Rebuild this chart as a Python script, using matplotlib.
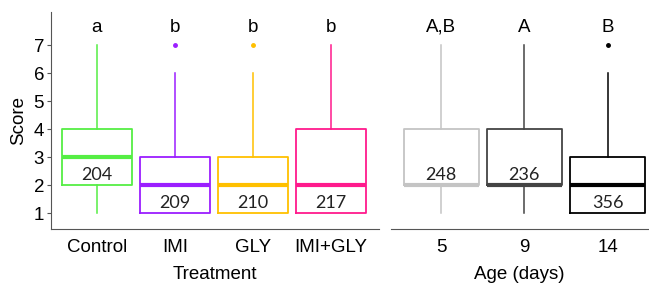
import matplotlib
matplotlib.use("Agg")
import matplotlib.pyplot as plt

plt.rcParams["font.family"] = ["Liberation Sans", "DejaVu Sans"]

# Treatment panel
treatments = ["Control", "IMI", "GLY", "IMI+GLY"]
trt_colors = ["#55EE44", "#9B1EFF", "#FFC000", "#FF1A8C"]
trt_whislo = [1, 1, 1, 1]
trt_q1 = [2, 1, 1, 1]
trt_med = [3, 2, 2, 2]
trt_q3 = [4, 3, 3, 4]
trt_whishi = [7, 6, 6, 7]
trt_fliers = [[], [7], [7], []]
trt_n = [204, 209, 210, 217]
trt_letters = ["a", "b", "b", "b"]

# Age panel
ages = ["5", "9", "14"]
age_colors = ["#C4C4C4", "#444444", "#000000"]
age_whislo = [1, 1, 1]
age_q1 = [2, 2, 1]
age_med = [2, 2, 2]
age_q3 = [4, 4, 3]
age_whishi = [7, 7, 6]
age_fliers = [[], [], [7]]
age_n = [248, 236, 356]
age_letters = ["A,B", "A", "B"]

fig = plt.figure(figsize=(6.49, 2.86), dpi=100)
ax1 = fig.add_axes([0.0786, 0.199, 0.5054, 0.759])
ax2 = fig.add_axes([0.6025, 0.199, 0.3955, 0.759])


def draw_panel(ax, labels, colors, wlo, q1, med, q3, whi, fliers, ns, letters):
    for i in range(len(labels)):
        st = {"whislo": wlo[i], "q1": q1[i], "med": med[i], "q3": q3[i],
              "whishi": whi[i], "fliers": fliers[i]}
        c = colors[i]
        ax.bxp([st], positions=[i + 1], widths=0.9, showcaps=False,
               boxprops=dict(color=c, linewidth=1.3),
               whiskerprops=dict(color=c, linewidth=1.1),
               medianprops=dict(color=c, linewidth=3, solid_capstyle="butt"),
               flierprops=dict(marker="o", markerfacecolor=c, markeredgecolor=c,
                               markersize=2.5))
        # sample size, sitting just above the lower hinge
        ax.text(i + 1, q1[i] + 0.2, str(ns[i]), ha="center", va="baseline",
                fontsize=13, family=["Lato", "DejaVu Sans"], color="#222222")
        ax.text(i + 1, 7.64, letters[i], ha="center", va="center", fontsize=13.5)
    ax.set_xticks(range(1, len(labels) + 1))
    ax.set_xticklabels(labels, fontsize=13.5)
    ax.set_ylim(0.43, 8.18)
    for s in ["top", "right"]:
        ax.spines[s].set_visible(False)
    ax.spines["bottom"].set_color("#555555")
    ax.spines["left"].set_color("#555555")
    ax.tick_params(axis="x", length=0, pad=7)


draw_panel(ax1, treatments, trt_colors, trt_whislo, trt_q1, trt_med, trt_q3,
           trt_whishi, trt_fliers, trt_n, trt_letters)
draw_panel(ax2, ages, age_colors, age_whislo, age_q1, age_med, age_q3,
           age_whishi, age_fliers, age_n, age_letters)

ax1.set_xlim(0.41, 4.62)
ax1.set_yticks(range(1, 8))
ax1.tick_params(axis="y", labelsize=13.5, length=3, color="#555555", pad=2)
ax1.set_ylabel("Score", fontsize=13.5, labelpad=5)
ax1.set_xlabel("Treatment", fontsize=13.5, labelpad=7)

ax2.set_xlim(0.40, 3.48)
ax2.spines["left"].set_visible(False)
ax2.set_yticks([])
ax2.set_xlabel("Age (days)", fontsize=13.5, labelpad=7)

fig.savefig("out.png", dpi=100)
